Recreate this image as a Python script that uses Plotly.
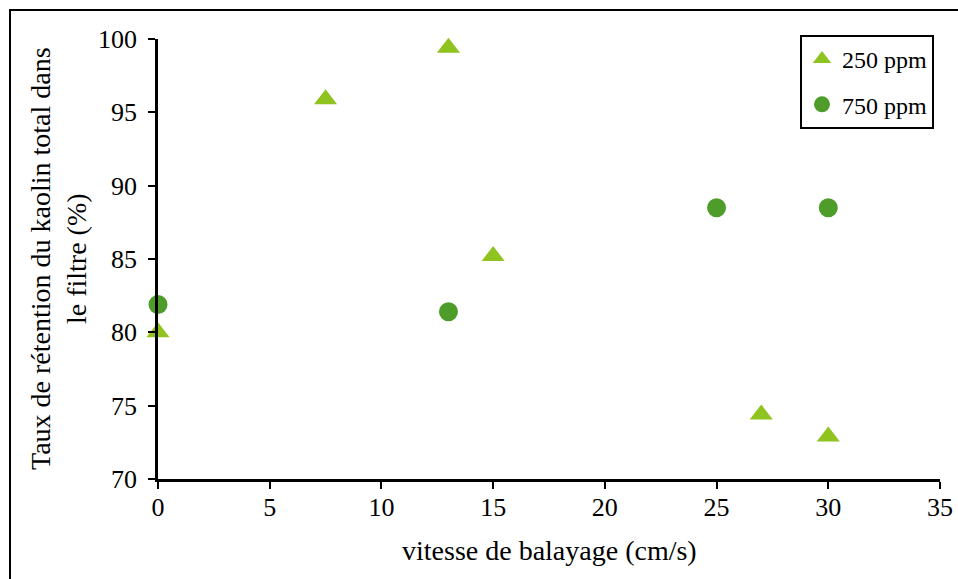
import plotly.graph_objects as go

# Data
x_250 = [0, 7.5, 13, 15, 27, 30]
y_250 = [80.0, 95.9, 99.4, 85.2, 74.4, 72.9]
x_750 = [0, 13, 25, 30]
y_750 = [81.9, 81.4, 88.5, 88.5]
series_names = ["250 ppm", "750 ppm"]
x_title = "vitesse de balayage (cm/s)"
y_title = "Taux de rétention du kaolin total dans<br>le filtre (%)"

FONT = "Liberation Serif"
W, H = 958, 579
L, R, T, B = 158, 18, 39, 100
pw, ph = W - L - R, H - T - B

fig = go.Figure()
fig.add_trace(go.Scatter(
    x=x_250, y=y_250, mode="markers", name=series_names[0], legendgroup="a",
    marker=dict(symbol="triangle-up", size=20, color="#8FC31F", line=dict(width=0)),
    cliponaxis=False,
))
fig.add_trace(go.Scatter(
    x=x_750, y=y_750, mode="markers", name=series_names[1], legendgroup="b",
    marker=dict(symbol="circle", size=19, color="#4E9D2A", line=dict(width=0)),
    cliponaxis=False,
))

axis_common = dict(
    showgrid=False, zeroline=False, showline=True, linecolor="black", linewidth=2.5,
    ticks="outside", ticklen=7, tickwidth=2, tickcolor="black", automargin=False,
    tickfont=dict(family=FONT, size=26, color="black"),
)
fig.update_xaxes(range=[0, 35], dtick=5, tick0=0, ticklabelstandoff=-4, **axis_common)
fig.update_yaxes(range=[70, 100], dtick=5, tick0=70, ticklabelstandoff=6, **axis_common)

fig.add_annotation(
    text=x_title, xref="paper", yref="paper", x=0.5, y=(479 - 550) / ph,
    xanchor="center", yanchor="middle", showarrow=False,
    font=dict(family=FONT, size=28, color="black"),
)
fig.add_annotation(
    text=y_title, xref="paper", yref="paper", x=(58 - L) / pw, y=0.5,
    xanchor="center", yanchor="middle", showarrow=False, textangle=-90,
    font=dict(family=FONT, size=28, color="black"),
)

# outer frame
fig.add_shape(
    type="rect", xref="paper", yref="paper",
    x0=(10 - L) / pw, x1=1.2, y0=-0.5, y1=(479 - 10) / ph,
    line=dict(color="black", width=2), fillcolor="rgba(0,0,0,0)", layer="below",
)

fig.update_layout(
    width=W, height=H,
    margin=dict(l=L, r=R, t=T, b=B, autoexpand=False),
    paper_bgcolor="white", plot_bgcolor="white",
    font=dict(family=FONT, size=24, color="black"),
    legend=dict(
        x=(800 - L) / pw, y=(479 - 35) / ph, xanchor="left", yanchor="top",
        bordercolor="black", borderwidth=2, bgcolor="white",
        font=dict(family=FONT, size=24, color="black"),
        tracegroupgap=11, itemwidth=30,
    ),
    showlegend=True,
)

fig.write_html(
    "out.html",
    config={"displayModeBar": False},
    post_script="document.body.style.margin='0px';",
)
